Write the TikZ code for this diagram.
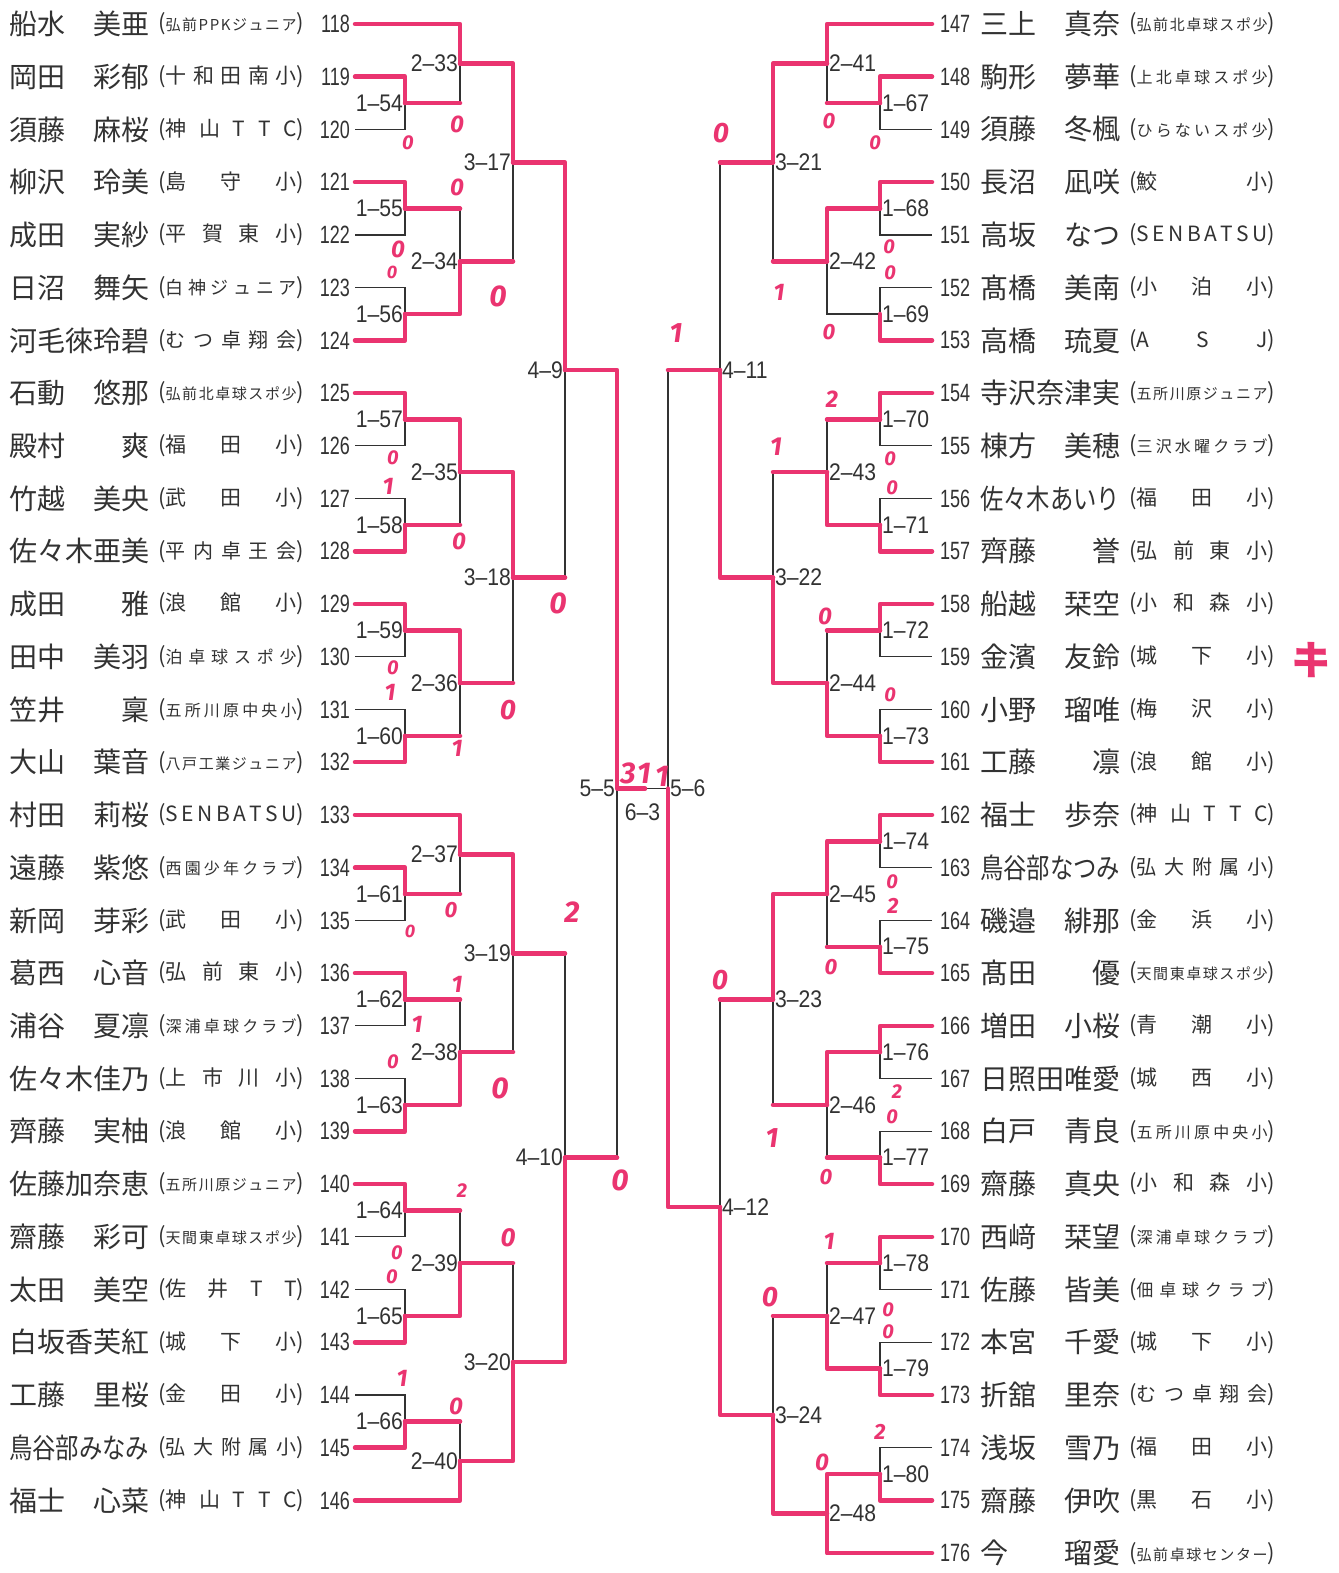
\documentclass[tikz,border=0pt]{standalone}
\usepackage{fontspec}
\usepackage{graphicx}
\setmainfont{Noto Sans CJK JP}
\newfontfamily\numf{Liberation Sans}
\newfontfamily\handf{Fira Sans}
\usetikzlibrary{calc}
\definecolor{pen}{RGB}{234,52,112}
\definecolor{ink}{RGB}{50,50,50}

\def\spreadit#1{\sprA#1\relax}
\def\sprA#1{#1\sprB}
\def\sprB#1{\ifx\relax#1\else\hfill#1\expandafter\sprB\fi}
\newcommand\clubbox[2]{{\fontsize{22}{22}\selectfont(}{\fontsize{#1}{#1}\selectfont\makebox[131pt][s]{\spreadit{#2}}}{\fontsize{22}{22}\selectfont)}}

\tikzset{
  br/.style={ink, line width=1.2pt},
  rd/.style={pen, line width=4.5pt, line cap=round, line join=round},
  nametxt/.style={inner sep=0pt, text=ink, font=\fontsize{28}{28}\selectfont},
  numtxt/.style={inner sep=0pt, text=ink, font=\numf\fontsize{25}{25}\selectfont},
  clubtxt/.style={inner sep=0pt, text=ink},
  lbl/.style={inner sep=2pt, text=ink, font=\numf\fontsize{24}{24}\selectfont},
  score/.style={inner sep=0pt, text=pen}
}

\newcommand\Lent[5]{%
  \coordinate (p#2) at (355,{24+52.73*#1});
  \node[numtxt,anchor=east] (n#2) at (350,{24+52.73*#1}) {\scalebox{0.72}[1]{#2}};
  \node[nametxt,anchor=west] (nm#2) at (9,{24+52.73*#1}) {#3};
  \node[clubtxt,anchor=west] (c#2) at (158,{24+52.73*#1}) {\clubbox{#4}{#5}};
}
\newcommand\Rent[5]{%
  \coordinate (p#2) at (932,{24+52.73*#1});
  \node[numtxt,anchor=west] (n#2) at (940,{24+52.73*#1}) {\scalebox{0.72}[1]{#2}};
  \node[nametxt,anchor=west] (nm#2) at (980,{24+52.73*#1}) {#3};
  \node[clubtxt,anchor=west] (c#2) at (1129,{24+52.73*#1}) {\clubbox{#4}{#5}};
}
% match: name, x, top child, bottom child, label, label anchor
\newcommand\BM[6]{%
  \coordinate (#1x) at (#2,0);
  \draw[br] (#3) -- (#3 -| #1x) -- (#4 -| #1x) -- (#4);
  \coordinate (#1) at ($(#3 -| #1x)!0.5!(#4 -| #1x)$);
  \node[lbl,anchor=#6] (#1l) at (#1) {\scalebox{0.88}[1]{#5}};
}
\newcommand\RW[2]{\draw[rd] (#1) -- (#1 -| #2x) -- (#2);}
\newcommand\RO[2]{\draw[rd] (#1) -- (#1 -| #2x);}
\newcommand\hw[5]{\node[score,font=\handf\bfseries\itshape\fontsize{#5}{#5}\selectfont] (#1) at (#2,#3) {#4};}

\begin{document}
\begin{tikzpicture}[x=1pt,y=-1pt]
\fill[white] (0,0) rectangle (1338,1573);
\useasboundingbox (0,0) rectangle (1338,1573);

% ---------- left entries ----------
\Lent{0}{118}{船水　美亜}{15}{弘前PPKジュニア}
\Lent{1}{119}{岡田　彩郁}{21}{十和田南小}
\Lent{2}{120}{須藤　麻桜}{21}{神山TTC}
\Lent{3}{121}{柳沢　玲美}{21}{島守小}
\Lent{4}{122}{成田　実紗}{21}{平賀東小}
\Lent{5}{123}{日沼　舞矢}{18}{白神ジュニア}
\Lent{6}{124}{河毛徠玲碧}{20}{むつ卓翔会}
\Lent{7}{125}{石動　悠那}{15}{弘前北卓球スポ少}
\Lent{8}{126}{殿村　　爽}{21}{福田小}
\Lent{9}{127}{竹越　美央}{21}{武田小}
\Lent{10}{128}{佐々木亜美}{20}{平内卓王会}
\Lent{11}{129}{成田　　雅}{21}{浪館小}
\Lent{12}{130}{田中　美羽}{17}{泊卓球スポ少}
\Lent{13}{131}{笠井　　稟}{16}{五所川原中央小}
\Lent{14}{132}{大山　葉音}{15}{八戸工業ジュニア}
\Lent{15}{133}{村田　莉桜}{21}{SENBATSU}
\Lent{16}{134}{遠藤　紫悠}{16}{西園少年クラブ}
\Lent{17}{135}{新岡　芽彩}{21}{武田小}
\Lent{18}{136}{葛西　心音}{21}{弘前東小}
\Lent{19}{137}{浦谷　夏凛}{16}{深浦卓球クラブ}
\Lent{20}{138}{佐々木佳乃}{21}{上市川小}
\Lent{21}{139}{齊藤　実柚}{21}{浪館小}
\Lent{22}{140}{佐藤加奈恵}{15}{五所川原ジュニア}
\Lent{23}{141}{齋藤　彩可}{15}{天間東卓球スポ少}
\Lent{24}{142}{太田　美空}{21}{佐井TT}
\Lent{25}{143}{白坂香芙紅}{21}{城下小}
\Lent{26}{144}{工藤　里桜}{21}{金田小}
\Lent{27}{145}{\scalebox{0.834}[1]{鳥谷部みなみ}}{20}{弘大附属小}
\Lent{28}{146}{福士　心菜}{21}{神山TTC}

% ---------- right entries ----------
\Rent{0}{147}{三上　真奈}{15}{弘前北卓球スポ少}
\Rent{1}{148}{駒形　夢華}{16}{上北卓球スポ少}
\Rent{2}{149}{須藤　冬楓}{16}{ひらないスポ少}
\Rent{3}{150}{長沼　凪咲}{21}{鮫小}
\Rent{4}{151}{高坂　なつ}{21}{SENBATSU}
\Rent{5}{152}{髙橋　美南}{21}{小泊小}
\Rent{6}{153}{高橋　琉夏}{21}{ASJ}
\Rent{7}{154}{寺沢奈津実}{15}{五所川原ジュニア}
\Rent{8}{155}{棟方　美穂}{16}{三沢水曜クラブ}
\Rent{9}{156}{\scalebox{0.834}[1]{佐々木あいり}}{21}{福田小}
\Rent{10}{157}{齊藤　　誉}{21}{弘前東小}
\Rent{11}{158}{船越　栞空}{21}{小和森小}
\Rent{12}{159}{金濱　友鈴}{21}{城下小}
\Rent{13}{160}{小野　瑠唯}{21}{梅沢小}
\Rent{14}{161}{工藤　　凛}{21}{浪館小}
\Rent{15}{162}{福士　歩奈}{21}{神山TTC}
\Rent{16}{163}{\scalebox{0.834}[1]{鳥谷部なつみ}}{20}{弘大附属小}
\Rent{17}{164}{磯邉　緋那}{21}{金浜小}
\Rent{18}{165}{髙田　　優}{15}{天間東卓球スポ少}
\Rent{19}{166}{増田　小桜}{21}{青潮小}
\Rent{20}{167}{日照田唯愛}{21}{城西小}
\Rent{21}{168}{白戸　青良}{16}{五所川原中央小}
\Rent{22}{169}{齋藤　真央}{21}{小和森小}
\Rent{23}{170}{西﨑　栞望}{16}{深浦卓球クラブ}
\Rent{24}{171}{佐藤　皆美}{17}{佃卓球クラブ}
\Rent{25}{172}{本宮　千愛}{21}{城下小}
\Rent{26}{173}{折舘　里奈}{20}{むつ卓翔会}
\Rent{27}{174}{浅坂　雪乃}{21}{福田小}
\Rent{28}{175}{齋藤　伊吹}{21}{黒石小}
\Rent{29}{176}{今　　瑠愛}{15}{弘前卓球センター}

% ---------- left bracket ----------
\BM{m154}{405}{p119}{p120}{1–54}{east}
\BM{m155}{405}{p121}{p122}{1–55}{east}
\BM{m156}{405}{p123}{p124}{1–56}{east}
\BM{m157}{405}{p125}{p126}{1–57}{east}
\BM{m158}{405}{p127}{p128}{1–58}{east}
\BM{m159}{405}{p129}{p130}{1–59}{east}
\BM{m160}{405}{p131}{p132}{1–60}{east}
\BM{m161}{405}{p134}{p135}{1–61}{east}
\BM{m162}{405}{p136}{p137}{1–62}{east}
\BM{m163}{405}{p138}{p139}{1–63}{east}
\BM{m164}{405}{p140}{p141}{1–64}{east}
\BM{m165}{405}{p142}{p143}{1–65}{east}
\BM{m166}{405}{p144}{p145}{1–66}{east}
\BM{m233}{460}{p118}{m154}{2–33}{east}
\BM{m234}{460}{m155}{m156}{2–34}{east}
\BM{m235}{460}{m157}{m158}{2–35}{east}
\BM{m236}{460}{m159}{m160}{2–36}{east}
\BM{m237}{460}{p133}{m161}{2–37}{east}
\BM{m238}{460}{m162}{m163}{2–38}{east}
\BM{m239}{460}{m164}{m165}{2–39}{east}
\BM{m240}{460}{m166}{p146}{2–40}{east}
\BM{m317}{513}{m233}{m234}{3–17}{east}
\BM{m318}{513}{m235}{m236}{3–18}{east}
\BM{m319}{513}{m237}{m238}{3–19}{east}
\BM{m320}{513}{m239}{m240}{3–20}{east}
\BM{m49}{565}{m317}{m318}{4–9}{east}
\BM{m410}{565}{m319}{m320}{4–10}{east}

% ---------- right bracket ----------
\BM{m167}{880}{p148}{p149}{1–67}{west}
\BM{m168}{880}{p150}{p151}{1–68}{west}
\BM{m169}{880}{p152}{p153}{1–69}{west}
\BM{m170}{880}{p154}{p155}{1–70}{west}
\BM{m171}{880}{p156}{p157}{1–71}{west}
\BM{m172}{880}{p158}{p159}{1–72}{west}
\BM{m173}{880}{p160}{p161}{1–73}{west}
\BM{m174}{880}{p162}{p163}{1–74}{west}
\BM{m175}{880}{p164}{p165}{1–75}{west}
\BM{m176}{880}{p166}{p167}{1–76}{west}
\BM{m177}{880}{p168}{p169}{1–77}{west}
\BM{m178}{880}{p170}{p171}{1–78}{west}
\BM{m179}{880}{p172}{p173}{1–79}{west}
\BM{m180}{880}{p174}{p175}{1–80}{west}
\BM{m241}{827}{p147}{m167}{2–41}{west}
\BM{m242}{827}{m168}{m169}{2–42}{west}
\BM{m243}{827}{m170}{m171}{2–43}{west}
\BM{m244}{827}{m172}{m173}{2–44}{west}
\BM{m245}{827}{m174}{m175}{2–45}{west}
\BM{m246}{827}{m176}{m177}{2–46}{west}
\BM{m247}{827}{m178}{m179}{2–47}{west}
\BM{m248}{827}{m180}{p176}{2–48}{west}
\BM{m321}{773}{m241}{m242}{3–21}{west}
\BM{m322}{773}{m243}{m244}{3–22}{west}
\BM{m323}{773}{m245}{m246}{3–23}{west}
\BM{m324}{773}{m247}{m248}{3–24}{west}
\BM{m411}{720}{m321}{m322}{4–11}{west}
\BM{m412}{720}{m323}{m324}{4–12}{west}
\BM{m56}{668}{m411}{m412}{5–6}{west}

% ---------- final ----------
\coordinate (m55x) at (617,0);
\draw[br] (m49) -- (m49 -| m55x) -- (m410 -| m55x) -- (m410);
\coordinate (m55) at (m56 -| m55x);
\node[lbl,anchor=east] (m55l) at (m55) {\scalebox{0.88}[1]{5–5}};
\draw[br] (m55) -- (m56);
\node[lbl] (m63l) at ($(m55)!0.5!(m56)+(0,24)$) {\scalebox{0.88}[1]{6–3}};

% ---------- red winner lines, left ----------
\RW{p119}{m154} \RW{p121}{m155} \RW{p124}{m156} \RW{p125}{m157}
\RW{p128}{m158} \RW{p129}{m159} \RW{p132}{m160} \RW{p134}{m161}
\RW{p136}{m162} \RW{p139}{m163} \RW{p140}{m164} \RW{p143}{m165}
\RW{p145}{m166}
\RW{p118}{m233} \RO{m154}{m233}
\RW{m156}{m234} \RO{m155}{m234}
\RW{m157}{m235} \RO{m158}{m235}
\RW{m159}{m236} \RO{m160}{m236}
\RW{p133}{m237} \RO{m161}{m237}
\RW{m163}{m238} \RO{m162}{m238}
\RW{m165}{m239} \RO{m164}{m239}
\RW{p146}{m240} \RO{m166}{m240}
\RW{m233}{m317} \RO{m234}{m317}
\RW{m235}{m318} \RO{m236}{m318}
\RW{m237}{m319} \RO{m238}{m319}
\RW{m240}{m320} \RO{m239}{m320}
\RW{m317}{m49} \RO{m318}{m49}
\RW{m320}{m410} \RO{m319}{m410}
\draw[rd] (m49) -- (m49 -| m55x) -- (m55) -- ($(m55)+(28,0)$);
\RO{m410}{m55}

% ---------- red winner lines, right ----------
\RW{p148}{m167} \RW{p150}{m168} \RW{p153}{m169} \RW{p154}{m170}
\RW{p157}{m171} \RW{p158}{m172} \RW{p161}{m173} \RW{p162}{m174}
\RW{p165}{m175} \RW{p166}{m176} \RW{p169}{m177} \RW{p170}{m178}
\RW{p173}{m179} \RW{p175}{m180}
\RW{p147}{m241} \RO{m167}{m241}
\RW{m168}{m242}
\RW{m171}{m243} \RO{m170}{m243}
\RW{m173}{m244} \RO{m172}{m244}
\RW{m174}{m245} \RO{m175}{m245}
\RW{m176}{m246} \RO{m177}{m246}
\RW{m179}{m247} \RO{m178}{m247}
\RW{p176}{m248} \RW{m180}{m248}
\RW{m241}{m321} \RO{m242}{m321}
\RW{m244}{m322} \RO{m243}{m322}
\RW{m245}{m323} \RO{m246}{m323}
\RW{m248}{m324} \RO{m247}{m324}
\RW{m322}{m411} \RO{m321}{m411}
\RW{m324}{m412} \RO{m323}{m412}
\RW{m412}{m56} \RO{m411}{m56}

% ---------- handwritten scores ----------
\hw{s1}{408}{143}{0}{20}
\hw{s2}{457}{124}{0}{24}
\hw{s3}{457}{187}{0}{24}
\hw{s4}{398}{249}{0}{24}
\hw{s5}{392}{272}{0}{18}
\hw{s6}{498}{296}{0}{30}
\hw{s7}{393}{458}{0}{20}
\hw{s8}{388}{486}{1}{24}
\hw{s9}{459}{541}{0}{24}
\hw{s10}{558}{603}{0}{30}
\hw{s11}{393}{668}{0}{20}
\hw{s12}{390}{692}{1}{24}
\hw{s13}{508}{710}{0}{28}
\hw{s14}{457}{748}{1}{24}
\hw{s15}{572}{912}{2}{30}
\hw{s16}{451}{910}{0}{22}
\hw{s17}{410}{931}{0}{18}
\hw{s18}{457}{984}{1}{24}
\hw{s19}{417}{1024}{1}{24}
\hw{s20}{393}{1062}{0}{20}
\hw{s21}{500}{1088}{0}{30}
\hw{s22}{620}{1180}{0}{30}
\hw{s23}{462}{1191}{2}{20}
\hw{s24}{508}{1238}{0}{26}
\hw{s25}{397}{1253}{0}{20}
\hw{s26}{392}{1277}{0}{20}
\hw{s27}{402}{1378}{1}{24}
\hw{s28}{456}{1406}{0}{24}
\hw{s29}{628}{773}{3}{30}
\hw{s30}{644}{773}{1}{30}
\hw{s31}{662}{776}{1}{30}
\hw{s32}{676}{333}{1}{28}
\hw{s33}{721}{133}{0}{28}
\hw{s34}{829}{121}{0}{22}
\hw{s35}{875}{143}{0}{20}
\hw{s36}{889}{247}{0}{20}
\hw{s37}{890}{273}{0}{20}
\hw{s38}{779}{292}{1}{24}
\hw{s39}{829}{332}{0}{22}
\hw{s40}{832}{399}{2}{24}
\hw{s41}{776}{447}{1}{26}
\hw{s42}{890}{459}{0}{20}
\hw{s43}{892}{488}{0}{20}
\hw{s44}{825}{616}{0}{24}
\hw{s45}{890}{695}{0}{20}
\hw{s46}{892}{882}{0}{20}
\hw{s47}{893}{906}{2}{22}
\hw{s48}{720}{980}{0}{28}
\hw{s49}{831}{967}{0}{22}
\hw{s50}{897}{1092}{2}{20}
\hw{s51}{892}{1117}{0}{20}
\hw{s52}{772}{1138}{1}{28}
\hw{s53}{826}{1177}{0}{22}
\hw{s54}{829}{1241}{1}{24}
\hw{s55}{770}{1297}{0}{28}
\hw{s56}{888}{1310}{0}{20}
\hw{s57}{888}{1332}{0}{20}
\hw{s58}{880}{1432}{2}{22}
\hw{s59}{822}{1462}{0}{24}
\node[score,font=\bfseries\fontsize{40}{40}\selectfont,rotate=-10] (ki) at (1312,660) {キ};
\end{tikzpicture}
\end{document}
